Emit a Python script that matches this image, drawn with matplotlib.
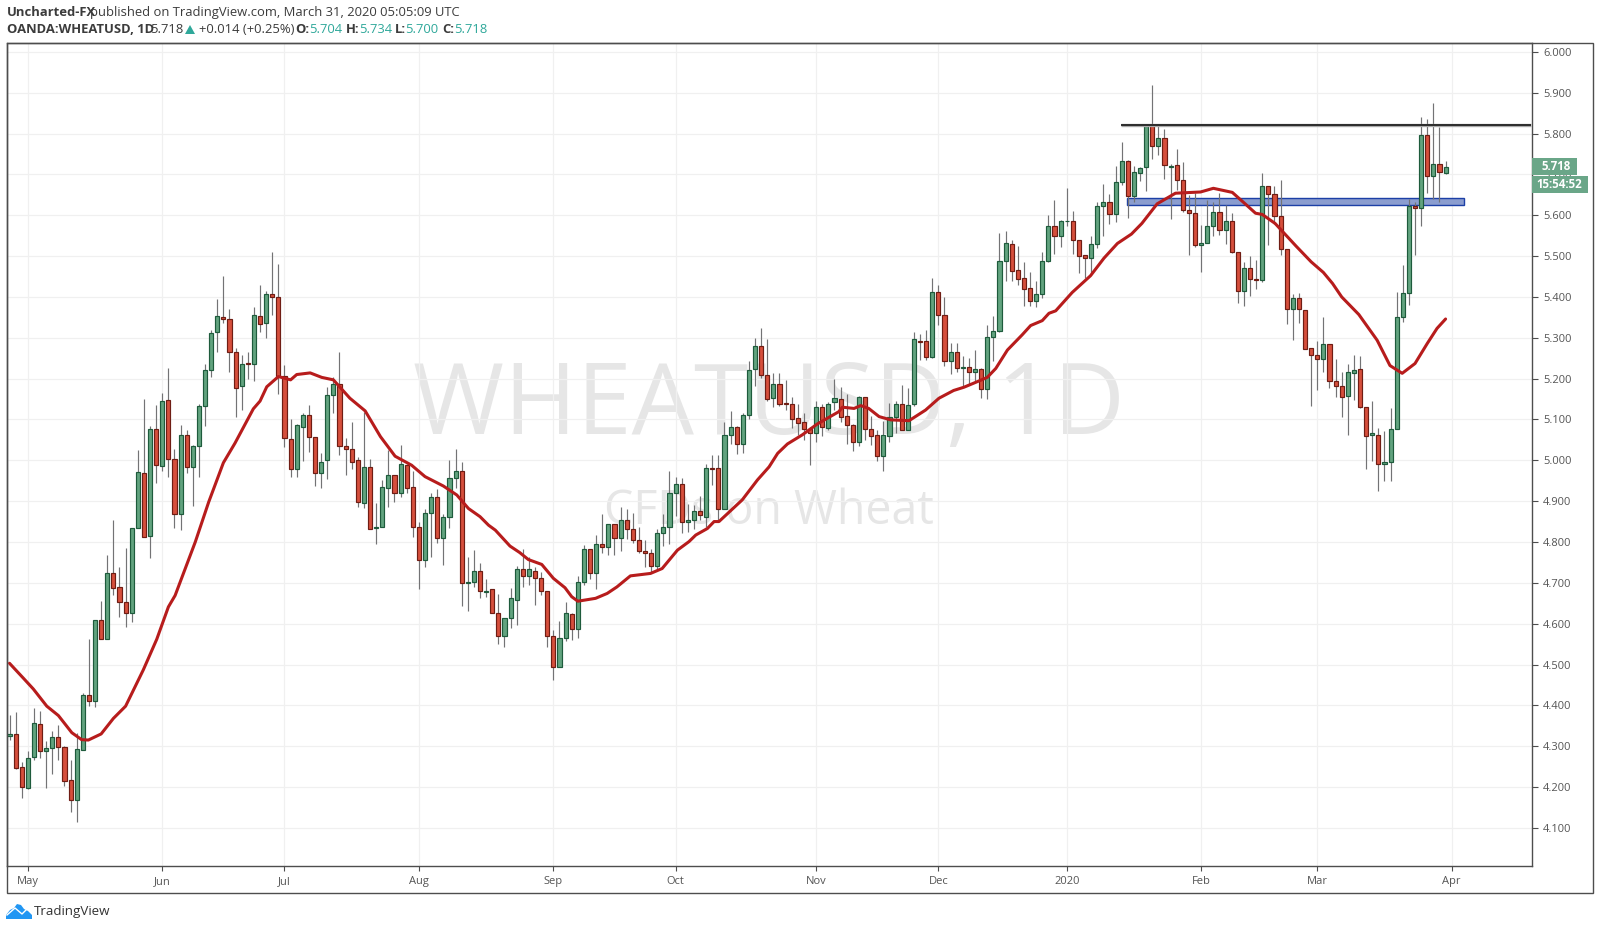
import matplotlib
matplotlib.use("Agg")
import matplotlib.pyplot as plt
from matplotlib.patches import Rectangle, Polygon, Circle
from matplotlib.transforms import Affine2D

W, H = 1599, 930

direction = ("GRRGGRGGRR" "RGGRGRGRRR" "GGRGRGRRGR" "GGGGGRRRGR" "GRGRRRRGGR"
             "RGGGRRRRGR" "GGGRGRRRGG" "RGGGRGGRGR" "RGGGRGRRRR" "GGRGGRGRGR"
             "GRRRRRGGGG" "RGGRGRRGGR" "GGGRRGRRRR" "RRGRGGRRRG" "RRRGGGRGGR"
             "RGRRGRGRGR" "GGGGRRRRGG" "GRGGRRRGGG" "RGGRGGGRGR" "GRRRRGGGRG"
             "RRGRRGRRRR" "GRRRRGRRRG" "GRRGRGGGGG" "RGRGRG")

wick_high = [
 4.377,4.384,4.261,4.288,4.394,4.387,4.313,4.338,4.352,4.300,
 4.265,4.333,4.431,4.562,4.608,4.655,4.767,4.853,4.738,4.785,
 4.835,5.025,5.150,5.083,5.135,5.166,5.226,5.028,5.086,5.075,
 5.037,5.139,5.235,5.320,5.394,5.452,5.371,5.276,5.257,5.264,
 5.376,5.429,5.415,5.511,5.480,5.233,5.101,5.090,5.115,5.135,
 5.058,5.017,5.179,5.205,5.264,5.054,5.093,5.009,5.119,5.002,
 4.895,4.952,5.025,4.963,5.037,4.992,4.973,4.850,4.880,4.921,
 4.929,4.868,5.001,5.027,4.995,4.762,4.780,4.748,4.709,4.686,
 4.672,4.613,4.687,4.741,4.784,4.762,4.738,4.726,4.681,4.584,
 4.606,4.653,4.625,4.717,4.792,4.784,4.817,4.868,4.844,4.844,
 4.885,4.880,4.872,4.836,4.805,4.784,4.831,4.868,4.974,4.959,
 4.956,4.894,4.890,4.912,4.992,5.013,5.013,5.095,5.120,5.084,
 5.115,5.242,5.299,5.323,5.297,5.213,5.213,5.197,5.154,5.138,
 5.117,5.082,5.145,5.139,5.143,5.199,5.179,5.162,5.090,5.157,
 5.156,5.108,5.074,5.097,5.140,5.145,5.184,5.176,5.313,5.309,
 5.319,5.446,5.429,5.400,5.286,5.286,5.255,5.250,5.270,5.225,
 5.331,5.353,5.557,5.561,5.539,5.525,5.486,5.460,5.439,5.510,
 5.601,5.637,5.588,5.666,5.610,5.539,5.503,5.549,5.632,5.676,
 5.652,5.720,5.780,5.735,5.721,5.717,5.821,5.919,5.821,5.810,
 5.726,5.762,5.730,5.650,5.654,5.576,5.637,5.632,5.654,5.625,
 5.605,5.509,5.486,5.500,5.490,5.703,5.671,5.671,5.686,5.517,
 5.407,5.410,5.367,5.276,5.292,5.351,5.284,5.248,5.215,5.236,
 5.258,5.255,5.130,5.145,5.078,5.072,5.127,5.412,5.478,5.641,
 5.633,5.840,5.835,5.874,5.817,5.734]

body_top = [
 4.330,4.330,4.249,4.272,4.356,4.355,4.296,4.323,4.323,4.298,
 4.216,4.293,4.425,4.425,4.608,4.608,4.725,4.725,4.690,4.654,
 4.835,4.971,4.968,5.076,5.076,5.145,5.147,5.003,5.063,5.063,
 5.034,5.132,5.220,5.312,5.354,5.352,5.346,5.266,5.237,5.237,
 5.355,5.354,5.408,5.408,5.400,5.207,5.051,5.086,5.110,5.110,
 5.058,4.997,5.161,5.186,5.186,5.034,5.027,5.000,4.983,4.983,
 4.837,4.934,4.963,4.963,4.990,4.988,4.934,4.836,4.870,4.909,
 4.909,4.860,4.956,4.973,4.973,4.703,4.728,4.728,4.681,4.684,
 4.625,4.613,4.662,4.735,4.735,4.733,4.730,4.711,4.681,4.571,
 4.564,4.625,4.623,4.703,4.782,4.784,4.794,4.794,4.843,4.843,
 4.855,4.855,4.831,4.806,4.779,4.772,4.821,4.836,4.921,4.943,
 4.943,4.853,4.875,4.875,4.980,4.980,4.980,5.063,5.081,5.081,
 5.112,5.220,5.281,5.281,5.210,5.188,5.186,5.139,5.139,5.103,
 5.093,5.077,5.130,5.130,5.139,5.152,5.149,5.108,5.086,5.156,
 5.156,5.076,5.061,5.061,5.107,5.137,5.137,5.135,5.296,5.293,
 5.291,5.411,5.411,5.357,5.266,5.266,5.228,5.228,5.223,5.223,
 5.301,5.316,5.487,5.531,5.529,5.465,5.446,5.421,5.406,5.487,
 5.573,5.573,5.587,5.587,5.587,5.539,5.502,5.529,5.622,5.632,
 5.632,5.681,5.734,5.734,5.705,5.715,5.818,5.818,5.788,5.788,
 5.721,5.722,5.686,5.612,5.605,5.531,5.573,5.607,5.607,5.585,
 5.585,5.509,5.472,5.472,5.445,5.671,5.671,5.651,5.597,5.517,
 5.397,5.397,5.367,5.276,5.259,5.284,5.284,5.193,5.181,5.215,
 5.220,5.223,5.130,5.066,5.063,4.997,5.076,5.352,5.409,5.623,
 5.623,5.796,5.796,5.725,5.725,5.718]

body_bottom = [
 4.325,4.246,4.201,4.198,4.273,4.287,4.287,4.296,4.298,4.214,
 4.167,4.167,4.291,4.410,4.410,4.562,4.562,4.687,4.654,4.627,
 4.627,4.835,4.813,4.815,4.989,4.986,5.003,4.869,4.869,4.983,
 4.983,5.034,5.132,5.220,5.315,5.346,5.266,5.178,5.181,5.236,
 5.237,5.334,5.337,5.400,5.207,5.054,4.979,4.979,5.082,5.058,
 4.970,4.970,5.000,5.159,5.034,5.027,4.997,4.897,4.895,4.833,
 4.835,4.836,4.931,4.919,4.919,4.931,4.836,4.755,4.755,4.870,
 4.809,4.809,4.860,4.956,4.699,4.699,4.703,4.679,4.677,4.625,
 4.569,4.569,4.613,4.659,4.717,4.717,4.711,4.681,4.571,4.493,
 4.493,4.566,4.588,4.588,4.703,4.723,4.723,4.787,4.787,4.809,
 4.809,4.831,4.806,4.779,4.772,4.740,4.740,4.821,4.836,4.921,
 4.850,4.848,4.853,4.865,4.862,4.979,4.880,4.880,5.063,5.041,
 5.041,5.110,5.223,5.210,5.151,5.153,5.139,5.138,5.102,5.092,
 5.077,5.066,5.066,5.081,5.078,5.142,5.105,5.086,5.046,5.046,
 5.076,5.060,5.011,5.011,5.060,5.107,5.073,5.073,5.137,5.290,
 5.254,5.254,5.357,5.242,5.242,5.227,5.227,5.217,5.217,5.175,
 5.175,5.301,5.316,5.487,5.464,5.445,5.420,5.391,5.391,5.406,
 5.487,5.548,5.548,5.585,5.539,5.501,5.496,5.496,5.529,5.622,
 5.604,5.604,5.681,5.646,5.648,5.703,5.717,5.769,5.769,5.722,
 5.719,5.686,5.612,5.605,5.526,5.526,5.531,5.573,5.563,5.563,
 5.509,5.414,5.414,5.445,5.441,5.441,5.651,5.597,5.517,5.370,
 5.370,5.370,5.273,5.259,5.247,5.247,5.193,5.181,5.154,5.157,
 5.213,5.130,5.059,5.061,4.992,4.992,4.997,5.076,5.352,5.409,
 5.617,5.617,5.695,5.695,5.705,5.704]

wick_low = [
 4.314,4.244,4.173,4.195,4.266,4.270,4.197,4.232,4.266,4.203,
 4.139,4.114,4.291,4.398,4.396,4.562,4.562,4.671,4.616,4.592,
 4.604,4.835,4.813,4.761,4.944,4.973,4.958,4.834,4.829,4.970,
 4.887,4.958,5.083,5.204,5.266,5.336,5.215,5.107,5.124,5.199,
 5.195,5.314,5.300,5.355,5.163,5.032,4.958,4.958,4.999,5.021,
 4.938,4.933,4.955,5.117,5.013,4.965,4.978,4.886,4.884,4.831,
 4.796,4.836,4.886,4.899,4.909,4.919,4.813,4.686,4.739,4.764,
 4.798,4.744,4.835,4.933,4.644,4.632,4.690,4.664,4.666,4.625,
 4.551,4.544,4.590,4.597,4.690,4.694,4.646,4.670,4.544,4.462,
 4.493,4.558,4.560,4.564,4.695,4.710,4.684,4.772,4.768,4.767,
 4.779,4.807,4.798,4.774,4.739,4.727,4.731,4.791,4.796,4.864,
 4.821,4.825,4.832,4.854,4.837,4.940,4.854,4.880,5.040,5.015,
 5.019,5.102,5.183,5.202,5.146,5.131,5.134,5.123,5.079,5.062,
 5.050,4.988,5.046,5.060,5.074,5.123,5.093,5.039,5.023,5.035,
 5.050,5.037,4.999,4.975,5.046,5.068,5.073,5.073,5.133,5.246,
 5.246,5.251,5.332,5.232,5.211,5.215,5.180,5.187,5.193,5.152,
 5.150,5.243,5.315,5.439,5.440,5.429,5.378,5.378,5.376,5.397,
 5.486,5.505,5.523,5.574,5.505,5.459,5.446,5.454,5.520,5.549,
 5.579,5.584,5.674,5.594,5.633,5.685,5.660,5.737,5.748,5.690,
 5.592,5.662,5.607,5.503,5.523,5.462,5.531,5.550,5.552,5.530,
 5.507,5.384,5.379,5.403,5.419,5.437,5.528,5.578,5.503,5.334,
 5.294,5.337,5.272,5.134,5.172,5.215,5.176,5.154,5.107,5.063,
 5.148,5.127,4.979,4.998,4.926,4.950,4.950,5.076,5.339,5.380,
 5.503,5.574,5.654,5.640,5.633,5.700]

ma_bar = [1,3.3,4.9,7.1,9,11.2,12.8,13.9,16,18,20,22.9,25.1,27,28.1,31.4,33.6,36,37.9,40.9,42,43.1,45,
          47,48,50.2,52.1,54,56.7,59.2,61.7,64.1,66.8,69,72,74.2,76.1,78,79.4,80.5,82.9,84.5,85.9,88.1,90,91.9,93,
          94,96.9,98.8,100.4,102.6,105.9,107.8,110.3,112.2,113.3,115.2,116.3,117.1,120.9,123.4,125.3,126.7,128.3,130.7,133.2,136.7,137.3,
          139.2,140.3,141.6,143.3,145.2,148.2,150.9,153.1,155.5,157.2,159.6,161,162.4,164.3,166.7,168.1,170,171.1,172.2,174.9,177.9,180.1,182.3,
          184.6,186.3,188.8,191.8,195.9,198,201.1,203.2,204.9,206,208.1,211.5,214,216,217.5,219,221.8,224.8,226.9,228.9,231,233,234.6,236]
ma_val = [4.503,4.466,4.440,4.398,4.375,4.333,4.316,4.315,4.330,4.368,4.398,4.487,4.562,4.641,4.669,4.800,4.898,4.994,5.042,5.126,5.145,5.180,5.205,
          5.197,5.210,5.214,5.203,5.197,5.152,5.121,5.058,5.010,4.988,4.960,4.937,4.915,4.882,4.862,4.841,4.829,4.790,4.774,4.757,4.745,4.711,4.688,4.666,
          4.655,4.662,4.674,4.690,4.717,4.723,4.735,4.780,4.801,4.817,4.833,4.850,4.850,4.903,4.952,4.984,5.017,5.040,5.062,5.089,5.119,5.130,
          5.127,5.134,5.127,5.107,5.099,5.097,5.123,5.152,5.171,5.179,5.194,5.203,5.225,5.270,5.307,5.330,5.342,5.360,5.366,5.411,5.452,5.495,5.531,
          5.554,5.580,5.628,5.654,5.657,5.666,5.656,5.628,5.605,5.602,5.580,5.525,5.486,5.460,5.433,5.400,5.357,5.294,5.232,5.213,5.237,5.286,5.323,5.346]

y_ticks = [4.1,4.2,4.3,4.4,4.5,4.6,4.7,4.8,4.9,5.0,5.1,5.2,5.3,5.4,5.5,5.6,5.7,5.8,5.9,6.0]
month_bars = [4,26,46,68,90,110,133,153,174,196,215,237]
month_labels = ["May","Jun","Jul","Aug","Sep","Oct","Nov","Dec","2020","Feb","Mar","Apr"]
resistance = 5.820
zone_top, zone_bottom = 5.642, 5.624
zone_bars = (183.9, 239.0)
res_bars = (182.9, 250.0)

for name, arr in [("dir", direction), ("wh", wick_high), ("top", body_top), ("bot", body_bottom), ("wl", wick_low)]:
    print(name, len(arr))
print(len(ma_bar), len(ma_val))

UP, UP_E = "#62a37f", "#1e5b3c"
DN, DN_E = "#d64f3c", "#6f1d14"
WICK = "#737375"
MA = "#b71c1c"
GRID = "#f0f0f0"
FRAME = "#4d4d4d"
TXT = "#555555"
TEAL = "#2fa89a"
FONT = "Open Sans"

fig = plt.figure(figsize=(W/100, H/100), dpi=100, facecolor="white")
plt.rcParams["font.family"] = [FONT, "DejaVu Sans"]
PX = Affine2D().scale(1/W, -1/H).translate(0, 1) + fig.transFigure

L, R, T, B = 6.5, 1532.0, 43.0, 866.0
ax = fig.add_axes([L/W, 1-B/H, (R-L)/W, (B-T)/H])
x0, dx = 9.5, 6.111
ax.set_xlim(1+(L-x0)/dx, 1+(R-x0)/dx)
ax.set_ylim(5+(460.3-B)/408.4, 5+(460.3-T)/408.4)

ax.yaxis.tick_right()
ax.set_yticks(y_ticks)
ax.set_yticklabels([f"{v:.3f}" for v in y_ticks], fontsize=8, color=TXT, fontfamily=FONT)
ax.set_xticks(month_bars)
ax.set_xticklabels(month_labels, fontsize=8, color=TXT, fontfamily=FONT)
ax.tick_params(axis="y", length=4, width=0.8, color=FRAME, pad=4)
ax.tick_params(axis="x", length=3.5, width=0.8, color=FRAME, pad=3.5)
ax.grid(True, color=GRID, lw=0.9)
ax.set_axisbelow(True)
for s in ax.spines.values():
    s.set_color(FRAME)
    s.set_linewidth(1.0)

# watermark
ax.text(769, 408, "WHEATUSD, 1D", transform=PX, ha="center", va="center",
        fontsize=71, color="#e6e6e6", fontfamily=FONT, zorder=0.5)
ax.text(769, 511, "CFDs on Wheat", transform=PX, ha="center", va="center",
        fontsize=33.5, color="#e6e6e6", fontfamily=FONT, zorder=0.5)

# drawings under candles
ax.add_patch(Rectangle((zone_bars[0], zone_bottom), zone_bars[1]-zone_bars[0], zone_top-zone_bottom,
                       facecolor="#8b9dcf", edgecolor="#1c3fa6", lw=1.0, zorder=1.5))

# candles
bars = list(range(1, len(direction)+1))
ax.vlines(bars, wick_low, wick_high, color=WICK, lw=0.85, zorder=2)
for i, d, top, bot in zip(bars, direction, body_top, body_bottom):
    ax.add_patch(Rectangle((i-0.34, bot), 0.68, max(top-bot, 0.0015),
                           facecolor=UP if d == "G" else DN,
                           edgecolor=UP_E if d == "G" else DN_E, lw=0.85, zorder=3))

ax.plot(ma_bar, ma_val, color=MA, lw=2.2, zorder=4, solid_joinstyle="round", solid_capstyle="round")
ax.plot(res_bars, [resistance, resistance], color="#aaaaaa", lw=2.4, zorder=4.4, solid_capstyle="butt")
ax.plot(res_bars, [resistance, resistance], color="#222222", lw=1.3, zorder=4.5, solid_capstyle="butt")

# outer frame and price tags
fig.add_artist(Rectangle((L, T), 1592.7-L, 893-T, transform=PX, fill=False, edgecolor=FRAME, lw=1.0))
fig.add_artist(Rectangle((1532, 176), 55.7, 16.7, transform=PX, facecolor="#6aa688", edgecolor="none"))
fig.add_artist(Rectangle((1532, 158.3), 44.7, 16.7, transform=PX, facecolor="#6aa688", edgecolor="none"))
fig.text(1541, 166.5, "5.718", transform=PX, color="white", fontsize=8.3, fontweight="bold", va="center", family=FONT)
fig.text(1536.5, 184.5, "15:54:52", transform=PX, color="white", fontsize=8.3, fontweight="bold", va="center", family=FONT)

# header
def label(x, y, s, size=9.4, color="#3c3c3c", weight="normal"):
    fig.text(x, y, s, transform=PX, fontsize=size, color=color, fontweight=weight, va="center", family=FONT)

label(7, 12.5, "Uncharted-FX", weight="bold")
label(90, 12.5, "published on TradingView.com, March 31, 2020 05:05:09 UTC")
label(7, 29.5, "OANDA:WHEATUSD, 1D", weight="bold")
label(150, 29.5, "5.718")
fig.add_artist(Polygon([(185, 34), (195, 34), (190, 25)], transform=PX, facecolor=TEAL, edgecolor="none"))
label(199, 29.5, "+0.014 (+0.25%)")
for x, s in [(295, "O:"), (346, "H:"), (395, "L:"), (442, "C:")]:
    label(x, 29.5, s, weight="bold")
for x, s in [(309, "5.704"), (359, "5.734"), (405, "5.700"), (454, "5.718")]:
    label(x, 29.5, s, color=TEAL)

# footer logo
fig.add_artist(Polygon([(6, 919), (6, 915), (10, 910), (14, 908), (17, 904), (21, 905), (24, 909),
                        (28, 911), (32, 915), (32, 919)], transform=PX, facecolor="#2196f3", edgecolor="none"))
fig.add_artist(plt.Line2D([7, 15, 22, 29], [915, 908, 914, 907], transform=PX, color="white", lw=1.0))
label(34, 911.5, "TradingView", size=9.6, color="#333333")

fig.savefig("out.png", dpi=100)
